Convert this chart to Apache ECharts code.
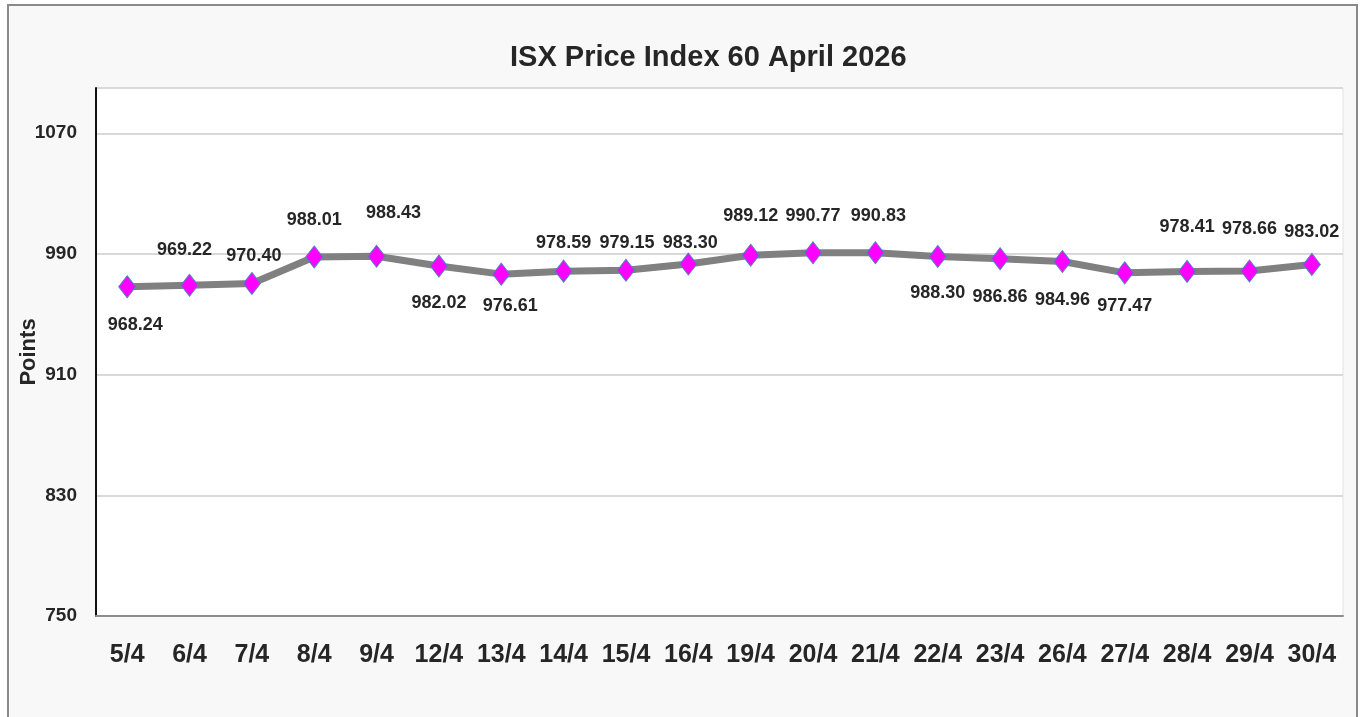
<!DOCTYPE html>
<html>
<head>
<meta charset="utf-8">
<script src="https://cdn.jsdelivr.net/npm/echarts@6/dist/echarts.min.js"></script>
<style>
  html, body { margin: 0; padding: 0; background: #ffffff; }
  #frame { position: absolute; left: 7px; top: 4px; width: 1347px; height: 720px; border: 2px solid #8a8a8a; background: #f8f8f8; }
  #chart { position: absolute; left: 0; top: 0; width: 1360px; height: 717px; }
</style>
</head>
<body>
<div id="frame"></div>
<div id="chart"></div>
<script>
// ---- data ----
const titleText = 'ISX Price Index 60 April 2026';
const yAxisName = 'Points';
const dates = ['5/4','6/4','7/4','8/4','9/4','12/4','13/4','14/4','15/4','16/4','19/4','20/4','21/4','22/4','23/4','26/4','27/4','28/4','29/4','30/4'];
const values = [968.24,969.22,970.40,988.01,988.43,982.02,976.61,978.59,979.15,983.30,989.12,990.77,990.83,988.30,986.86,984.96,977.47,978.41,978.66,983.02];
const yMin = 750, yMax = 1100, yStep = 80;

// ---- label placement (style only) ----
const labelDx = [8,-5,2,0,17,0,9,0,1,2,0,0,3,0,0,0,0,0,0,0];
const labelDy = [38,-35,-27,-37,-43,37,32,-28,-27,-21,-39,-37,-37,37,38,38,33,-44,-42,-32];

const FONT = "'Liberation Sans', Arial, sans-serif";
const TXT = '#262626';

const chart = echarts.init(document.getElementById('chart'));
chart.setOption({
  backgroundColor: 'transparent',
  animation: false,
  title: {
    text: titleText, left: 505, top: 38,
    textStyle: { fontFamily: FONT, fontSize: 29, fontWeight: 'bold', color: TXT }
  },
  grid: {
    left: 96, right: 17, top: 88, bottom: 101,
    containLabel: false, outerBoundsMode: 'none',
    show: true, backgroundColor: '#ffffff', borderColor: '#e2e2e2', borderWidth: 1
  },
  xAxis: {
    type: 'category', data: dates, boundaryGap: true,
    axisLine: { lineStyle: { color: '#8c8c8c', width: 2 } },
    axisTick: { show: false },
    axisLabel: { interval: 0, fontFamily: FONT, fontSize: 25, fontWeight: 'bold', color: TXT, margin: 27 }
  },
  yAxis: {
    type: 'value', min: yMin, max: yMax, interval: yStep,
    name: yAxisName, nameLocation: 'middle', nameGap: 56, nameRotate: 90,
    nameMoveOverlap: false,
    nameTextStyle: { fontFamily: FONT, fontSize: 22, fontWeight: 'bold', color: TXT },
    axisLine: { show: true, lineStyle: { color: '#111', width: 2 } },
    axisTick: { show: false },
    axisLabel: { fontFamily: FONT, fontSize: 19, fontWeight: 'bold', color: TXT, margin: 19,
                 showMaxLabel: false, formatter: v => String(v) },
    splitLine: { lineStyle: { color: '#d9d9d9', width: 2 } }
  },
  series: [{
    type: 'line',
    data: values.map((v, i) => ({
      value: v,
      label: { offset: [labelDx[i], labelDy[i]] }
    })),
    lineStyle: { color: '#808080', width: 7 },
    symbol: 'diamond',
    symbolSize: [17, 22],
    itemStyle: { color: '#ff00ff', borderColor: '#4f81bd', borderWidth: 1 },
    label: {
      show: true, position: 'inside',
      fontFamily: FONT, fontSize: 18, fontWeight: 'bold', color: TXT,
      formatter: p => Number(p.value).toFixed(2)
    },
    z: 3
  }]
});
</script>
</body>
</html>
